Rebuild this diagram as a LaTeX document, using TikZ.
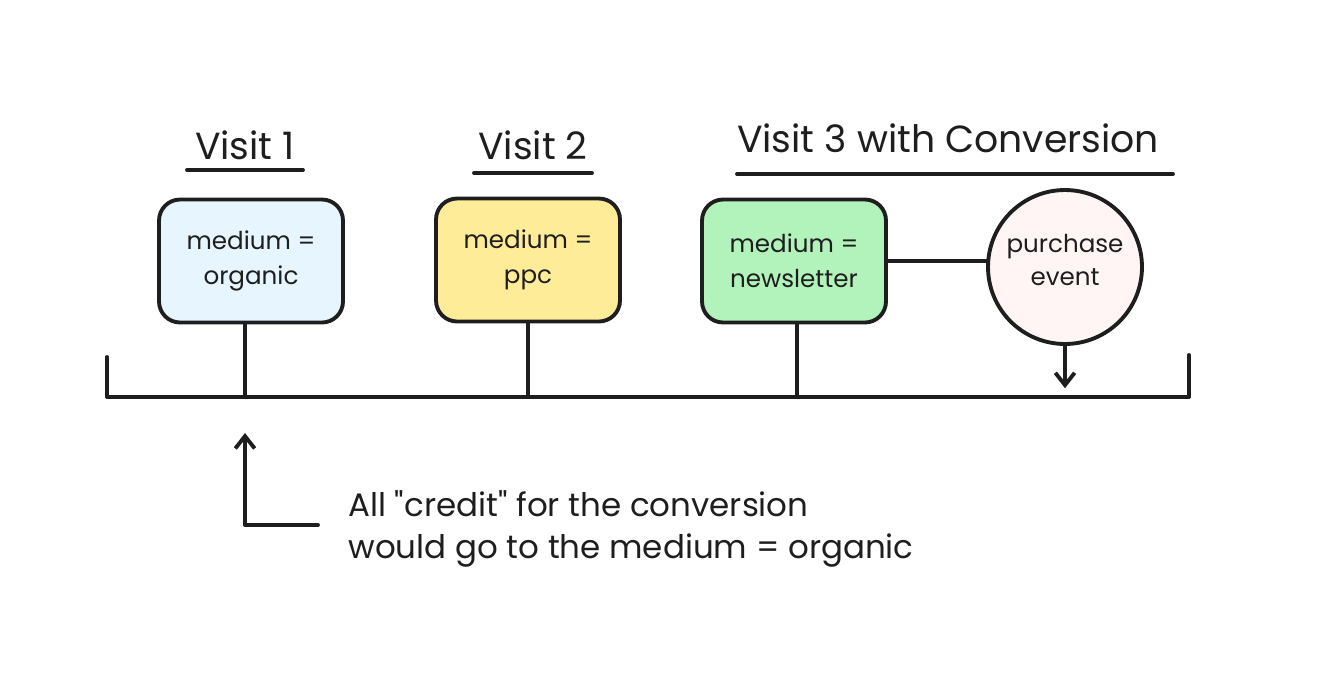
\documentclass[tikz,border=0pt]{standalone}
\usepackage{fontspec}
\setmainfont{Poppins}
\usetikzlibrary{arrows.meta}
\definecolor{ink}{HTML}{1E1E1E}
\definecolor{organicfill}{HTML}{E7F5FF}
\definecolor{ppcfill}{HTML}{FFEC99}
\definecolor{newsfill}{HTML}{B2F2BB}
\definecolor{eventfill}{HTML}{FFF5F5}
\tikzset{
	sketch/.style={draw=ink,line width=2.2pt,line cap=round,line join=round},
	visitbox/.style={sketch,rounded corners=0.42cm,minimum width=3.68cm,minimum height=2.46cm,
		align=center,text=ink,font=\fontsize{14}{20}\selectfont},
	eventdot/.style={sketch,circle,minimum size=3.08cm},
	eventtext/.style={align=center,text=ink,font=\fontsize{14}{19}\selectfont,yshift=4pt},
	visittitle/.style={text=ink,font=\fontsize{21.5}{26}\selectfont},
	tip/.style={-{Straight Barb[length=7pt,width=11pt,line width=2.2pt]}}
}
\begin{document}
\begin{tikzpicture}[x=0.02cm,y=-0.02cm]
	\useasboundingbox (0,0) rectangle (1318,680);
	\node[visittitle] (t1) at (245,145) {Visit 1};
	\node[visittitle] (t2) at (533,145) {Visit 2};
	\node[visittitle] (t3) at (948,138) {Visit 3 with Conversion};
	\draw[sketch] (187,170) -- (303,170);
	\draw[sketch] (474,173) -- (592,173);
	\draw[sketch] (737,174) -- (1173,174);
	\node[visitbox,fill=organicfill] (v1) at (251,261) {medium =\\organic};
	\node[visitbox,fill=ppcfill] (v2) at (528,260) {medium =\\ppc};
	\node[visitbox,fill=newsfill] (v3) at (794,261) {medium =\\newsletter};
	\node[eventdot,fill=eventfill,label={[eventtext]center:{purchase\\event}}] (buy) at (1065,267) {};
	\coordinate (tl-left) at (107,397);
	\coordinate (tl-right) at (1189,397);
	\draw[sketch] (107,357) -- (tl-left) -- (tl-right) -- (1189,355);
	\draw[sketch] (v1.south -| 245,0) -- (tl-left -| 245,0);
	\draw[sketch] (v2.south) -- (v2.south |- tl-left);
	\draw[sketch] (v3.south -| 797,0) -- (tl-left -| 797,0);
	\draw[sketch] (v3.east) -- (v3.east -| buy.west);
	\draw[sketch,tip,shorten >=5pt] (buy.south) -- (buy.south |- tl-left);
	\coordinate (credit-tip) at (245,433);
	\coordinate (credit-corner) at (245,525);
	\coordinate (credit-end) at (318,525);
	\draw[sketch,tip] (credit-end) -- (credit-corner) -- (credit-tip);
	\node[anchor=west,align=left,inner sep=0pt,text=ink,font=\fontsize{18.5}{24}\selectfont]
		(note) at (348,529) {All \textquotedbl credit\textquotedbl{} for the conversion\\would go to the medium = organic};
\end{tikzpicture}
\end{document}
